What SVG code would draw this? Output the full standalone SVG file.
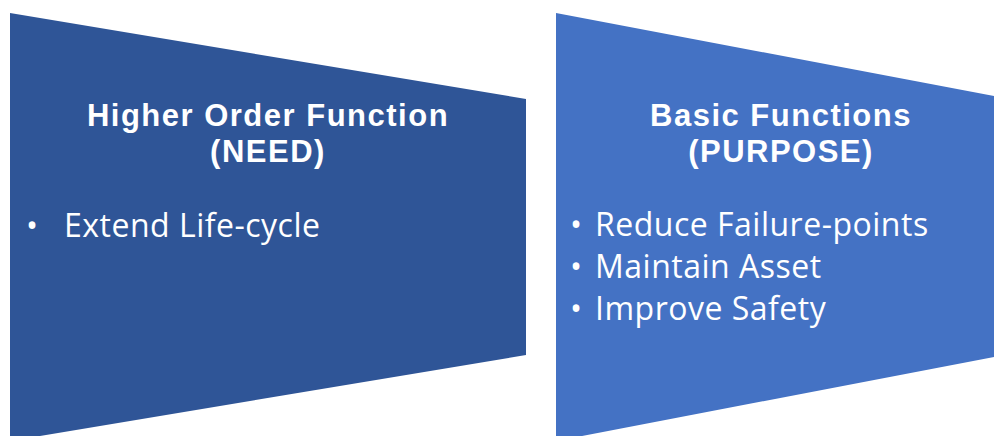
<svg xmlns="http://www.w3.org/2000/svg" width="994" height="436" viewBox="0 0 994 436">
<style>
.t{font-family:"Liberation Sans",Arial,sans-serif;font-weight:700;font-size:31px;letter-spacing:1.5px;fill:#fff;text-anchor:middle}
.b{font-family:"Open Sans","Liberation Sans",sans-serif;font-weight:400;font-size:32px;letter-spacing:0.5px;fill:#fff}
</style>
<rect width="994" height="436" fill="#fff"/>
<g id="need">
<polygon points="10,13 526,99 526,355 10,441" fill="#2F5597"/>
<text class="t" x="268" y="126">Higher Order Function</text>
<text class="t" x="268" y="162">(NEED)</text>
<text class="b" x="26" y="237">•</text>
<text class="b" x="64" y="237">Extend Life-cycle</text>
</g>
<g id="purpose">
<polygon points="556,13 994,96 994,357 556,441" fill="#4472C4"/>
<text class="t" x="781" y="126">Basic Functions</text>
<text class="t" x="781" y="162">(PURPOSE)</text>
<text class="b" x="570" y="236">•</text>
<text class="b" x="595" y="236">Reduce Failure-points</text>
<text class="b" x="570" y="278">•</text>
<text class="b" x="595" y="278">Maintain Asset</text>
<text class="b" x="570" y="320">•</text>
<text class="b" x="595" y="320">Improve Safety</text>
</g>
</svg>
